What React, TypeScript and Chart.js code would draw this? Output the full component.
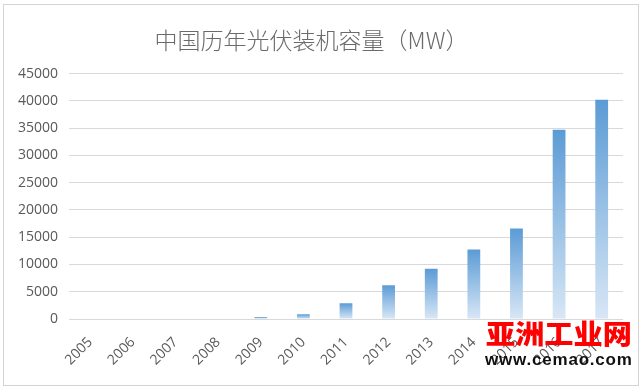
import React, { useEffect, useRef } from "react";
import { Chart, registerables } from "chart.js";

Chart.register(...registerables);

const titleText = "中国历年光伏装机容量（MW）";
const categories = ["2005", "2006", "2007", "2008", "2009", "2010", "2011", "2012", "2013", "2014", "2015", "2016", "2017"];
const capacityMW = [0, 0, 0, 0, 380, 870, 2900, 6200, 9200, 12750, 16600, 34700, 40200];
const yMax = 45000;
const yStep = 5000;
const watermarkCn = "亚洲工业网";
const watermarkUrl = "www.cemao.com";

export default function App() {
  const canvasRef = useRef<HTMLCanvasElement | null>(null);

  useEffect(() => {
    document.body.style.margin = "0";
    const canvas = canvasRef.current;
    if (!canvas) return;
    const chart = new Chart(canvas, {
      type: "bar",
      data: {
        labels: categories,
        datasets: [
          {
            label: "装机容量",
            data: capacityMW,
            backgroundColor: (c: any) => {
              const ch = c.chart;
              const ys = ch.scales && ch.scales.y;
              if (!ys || c.type !== "data") return "#5b9bd5";
              const top = ys.getPixelForValue(c.raw);
              const base = ys.getPixelForValue(0);
              if (!isFinite(top) || !isFinite(base) || base - top < 1) return "rgba(0,0,0,0)";
              const g = ch.ctx.createLinearGradient(0, top, 0, base);
              g.addColorStop(0, "#5b9bd5");
              g.addColorStop(1, "#d8e7f6");
              return g;
            },
            borderWidth: 0,
            barPercentage: 0.6,
            categoryPercentage: 0.5,
          },
        ],
      },
      options: {
        responsive: false,
        animation: false,
        layout: { padding: { left: 0, right: 21, top: 0, bottom: 0 } },
        plugins: {
          legend: { display: false },
          tooltip: { enabled: false },
          title: {
            display: true,
            text: titleText,
            color: "#6a6a6a",
            font: { family: "'Noto Sans CJK SC', sans-serif", size: 23, weight: "300", lineHeight: 1.2 },
            padding: { top: 26, bottom: 20 },
          },
        },
        scales: {
          x: {
            grid: { display: false, drawTicks: false },
            border: { display: false },
            ticks: {
              color: "#595959",
              font: { family: "'Open Sans', sans-serif", size: 14 },
              minRotation: 45,
              maxRotation: 45,
              padding: 15,
            },
            afterFit: (s: any) => {
              s.height = 72;
            },
          },
          y: {
            min: 0,
            max: yMax,
            grid: { color: "#d9d9d9", lineWidth: 1, drawTicks: false },
            border: { display: false },
            ticks: {
              stepSize: yStep,
              color: "#595959",
              font: { family: "'Open Sans', sans-serif", size: 14 },
              padding: 11,
              callback: (v: any) => String(v),
            },
            afterFit: (s: any) => {
              s.width = 69;
            },
          },
        },
      },
    });
    return () => chart.destroy();
  }, []);

  return (
    <div style={{ position: "relative", width: 644, height: 391, background: "#ffffff", overflow: "hidden" }}>
      <div
        style={{
          position: "absolute",
          left: 3,
          top: 4,
          width: 636,
          height: 382,
          boxSizing: "border-box",
          border: "1px solid #d4d4d4",
        }}
      />
      <canvas ref={canvasRef} width={644} height={391} style={{ position: "absolute", left: 0, top: 0 }} />
      <div
        style={{
          position: "absolute",
          left: 486,
          top: 319,
          fontFamily: "'Noto Sans CJK SC', sans-serif",
          fontWeight: 900,
          fontSize: 27,
          lineHeight: "27px",
          color: "#ff0000",
          transform: "scaleX(1.08)",
          transformOrigin: "left top",
          whiteSpace: "nowrap",
        }}
      >
        {watermarkCn}
      </div>
      <div
        style={{
          position: "absolute",
          left: 485,
          top: 351,
          fontFamily: "'Liberation Sans', Arial, sans-serif",
          fontWeight: 700,
          fontSize: 17,
          lineHeight: "17px",
          letterSpacing: "0.8px",
          color: "#111111",
          whiteSpace: "nowrap",
        }}
      >
        {watermarkUrl}
      </div>
    </div>
  );
}
